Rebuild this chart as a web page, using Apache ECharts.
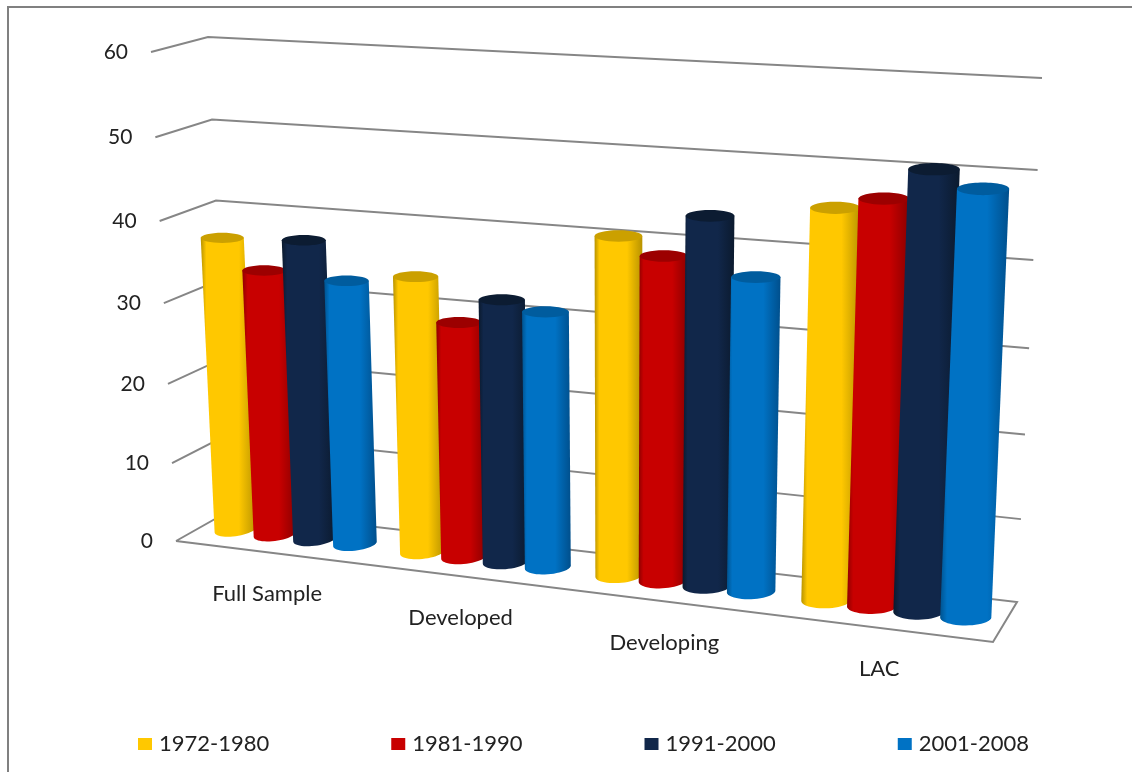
<!DOCTYPE html>
<html><head><meta charset="utf-8">
<style>html,body{margin:0;padding:0;background:#fff}#c{width:1132px;height:772px}</style>
<script src="https://cdn.jsdelivr.net/npm/echarts@6/dist/echarts.min.js"></script>
</head><body><div id="c"></div>
<script>
const categories = ['Full Sample','Developed','Developing','LAC'];
const periods = ['1972-1980','1981-1990','1991-2000','2001-2008'];
const v1972 = [37.0,34.2,40.9,45.9];
const v1981 = [33.4,29.1,39.0,47.3];
const v1991 = [37.5,32.3,44.0,50.9];
const v2001 = [33.0,31.3,37.4,49.1];
const seriesValues = [v1972,v1981,v1991,v2001];
const yTicks = [0,10,20,30,40,50,60];

const FONT = 'Lato';
const G = {left:176, top:52, w:817, h:489};
const FRONT = [[176,541],[993,642],[1016,102],[151,52]];
const BACK  = [[231,510],[1017,602],[1042,78],[208,37]];
function makeH(q){
  const [p0,p1,p2,p3]=q;
  const sx=p0[0]-p1[0]+p2[0]-p3[0], sy=p0[1]-p1[1]+p2[1]-p3[1];
  const dx1=p1[0]-p2[0], dx2=p3[0]-p2[0], dy1=p1[1]-p2[1], dy2=p3[1]-p2[1];
  const den=dx1*dy2-dx2*dy1;
  const g=(sx*dy2-dx2*sy)/den, h=(dx1*sy-sx*dy1)/den;
  const a=p1[0]-p0[0]+g*p1[0], b=p3[0]-p0[0]+h*p3[0], c=p0[0];
  const d=p1[1]-p0[1]+g*p1[1], e=p3[1]-p0[1]+h*p3[1], f=p0[1];
  return (u,s)=>{const w=g*u+h*s+1; return [(a*u+b*s+c)/w,(d*u+e*s+f)/w];};
}
const HF=makeH(FRONT), HB=makeH(BACK);
// flat cartesian position (from the axes) -> perspective screen position at depth t (0 front, 1 back)
function proj(px,py,t){
  const u=(px-G.left)/G.w, s=(G.top+G.h-py)/G.h;
  const a=HF(u,s), b=HB(u,s);
  return [a[0]+(b[0]-a[0])*t, a[1]+(b[1]-a[1])*t];
}
const BAR_PITCH=0.215, BAR_R=0.116, MID=0.5;
const colors=['#FFC800','#C80000','#11274A','#0072C4'];
const edgeL=['#B89300','#900000','#0B1A2E','#00538F'];
const edgeR=['#B89300','#8A0000','#0B1A2E','#004F8C'];
const caps=['#CBA000','#9C0000','#0C1C32','#005C9E'];
const LINE='#868686';

function renderGrid(params,api){
  const v=api.value(0);
  const x0=G.left, x1=G.left+G.w, y=api.coord([0,v])[1];
  const pts = v===0
    ? [proj(x0,y,0),proj(x0,y,1),proj(x1,y,1),proj(x1,y,0),proj(x0,y,0)]
    : [proj(x0,y,0),proj(x0,y,1),proj(x1,y,1)];
  return {type:'polyline',silent:true,shape:{points:pts},style:{stroke:LINE,lineWidth:2,fill:null}};
}
function renderTick(params,api){
  const v=api.value(0), y=api.coord([0,v])[1];
  const p=proj(G.left,y,0);
  return {type:'text',silent:true,x:p[0]-23,y:p[1],style:{text:String(v),align:'right',verticalAlign:'middle',font:'21px '+FONT,fill:'#222'}};
}
function renderCat(params,api){
  const i=api.value(0), c=api.coord([i,0]);
  const p=proj(c[0],c[1],0);
  return {type:'text',silent:true,x:p[0]-2,y:p[1]+41,style:{text:categories[i],align:'center',verticalAlign:'middle',font:'22px '+FONT,fill:'#222'}};
}
function bar(si){
  return function(params,api){
    const cat=api.value(0), val=api.value(1);
    const band=api.size([1,0])[0];
    const c=api.coord([cat,val]), c0=api.coord([cat,0]);
    const cx=c[0]+(si-1.5)*BAR_PITCH*band, r=BAR_R*band;
    const tl=proj(cx-r,c[1],MID), tr=proj(cx+r,c[1],MID);
    const bl=proj(cx-r,c0[1],MID), br=proj(cx+r,c0[1],MID);
    const brx=(br[0]-bl[0])/2;
    const trx=Math.min((tr[0]-tl[0])/2, brx*1.02);
    const tc=[(tl[0]+tr[0])/2,(tl[1]+tr[1])/2], bc=[(bl[0]+br[0])/2,(bl[1]+br[1])/2];
    const bry=brx*0.32, tryy=trx*0.24;
    const u=(cx-G.left)/G.w, tilt=3*(1-u);
    const pts=[[tc[0]-trx,tc[1]],[tc[0]+trx,tc[1]]];
    for(let k=0;k<=24;k++){
      const a=Math.PI*k/24, ca=Math.cos(a);
      pts.push([bc[0]+brx*ca, bc[1]+bry*Math.sin(a)-tilt*ca]);
    }
    const grad=new echarts.graphic.LinearGradient(0,0,1,0,[
      {offset:0,color:edgeL[si]},{offset:0.1,color:colors[si]},{offset:0.68,color:colors[si]},{offset:1,color:edgeR[si]}]);
    return {type:'group',silent:true,children:[
      {type:'polygon',silent:true,shape:{points:pts},style:{fill:grad}},
      {type:'ellipse',silent:true,shape:{cx:tc[0],cy:tc[1],rx:trx,ry:tryy},style:{fill:caps[si]}}
    ]};
  };
}
const series=[
  {type:'custom',name:'grid',z:1,silent:true,renderItem:renderGrid,data:yTicks.map(v=>[v]),encode:{y:0}},
  {type:'custom',name:'ticks',z:5,silent:true,renderItem:renderTick,data:yTicks.map(v=>[v]),encode:{y:0}},
  {type:'custom',name:'cats',z:5,silent:true,renderItem:renderCat,data:categories.map((c,i)=>[i]),encode:{x:0}}
];
periods.forEach((p,si)=>{
  series.push({type:'custom',name:p,z:2,renderItem:bar(si),itemStyle:{color:colors[si]},
    data:seriesValues[si].map((v,i)=>[i,v]),encode:{x:0,y:1}});
});
const chart=echarts.init(document.getElementById('c'),null,{renderer:'canvas'});
chart.setOption({
  animation:false,
  backgroundColor:'#fff',
  tooltip:{show:false},
  grid:{left:G.left,top:G.top,width:G.w,height:G.h},
  xAxis:{type:'category',data:categories,show:false},
  yAxis:{type:'value',min:0,max:60,interval:10,show:false},
  legend:{data:periods,left:133,top:728,icon:'rect',itemWidth:14,itemHeight:12,itemGap:122,selectedMode:false,
    textStyle:{fontFamily:FONT,fontSize:22,color:'#222',padding:[0,0,0,2]}},
  graphic:[{type:'polyline',silent:true,shape:{points:[[8,772],[8,7],[1132,7]]},style:{stroke:'#808080',lineWidth:2,fill:null}}],
  series
});
</script></body></html>
